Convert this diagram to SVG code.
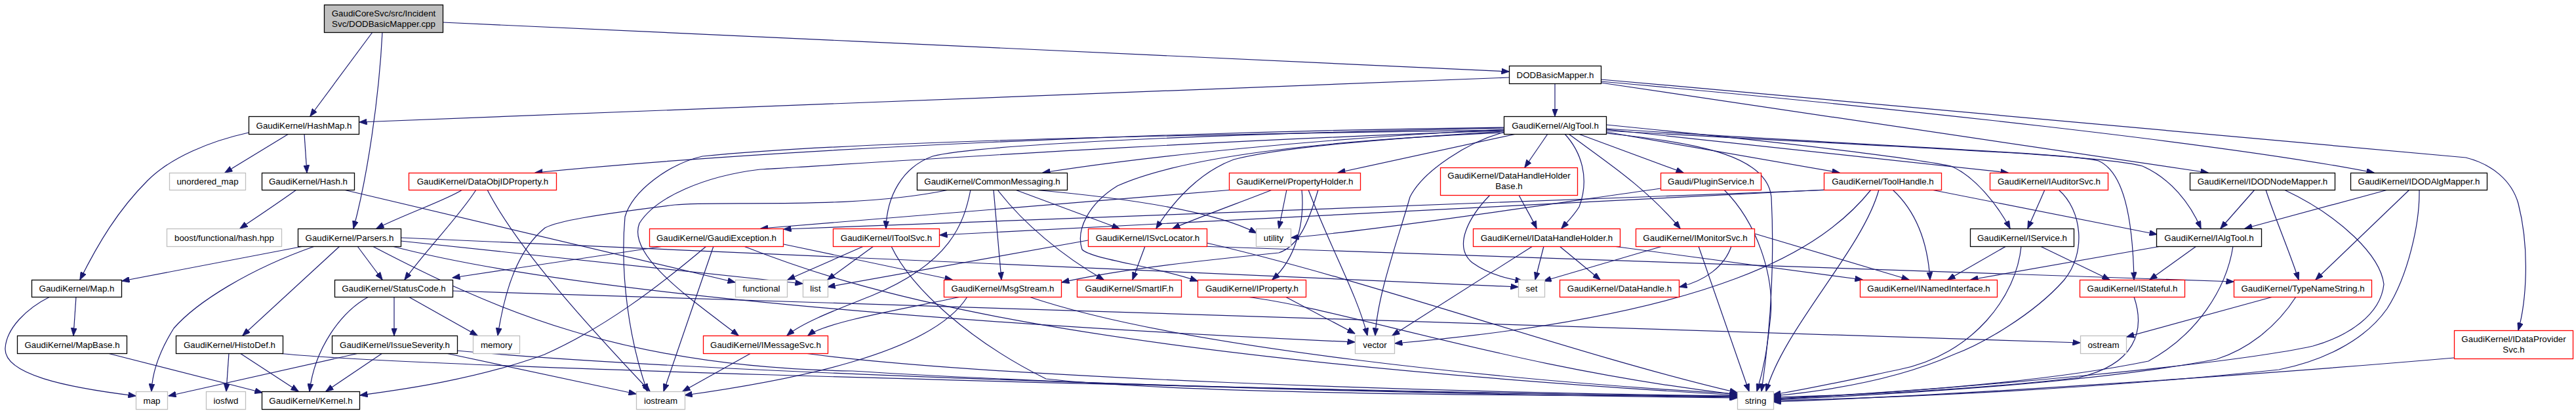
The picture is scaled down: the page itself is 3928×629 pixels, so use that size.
<svg xmlns="http://www.w3.org/2000/svg" width="3928" height="629" viewBox="0 0 3928 629">
<style>
text{font-family:"Liberation Sans",Arial,Helvetica,sans-serif;font-size:13.33px;text-anchor:middle;fill:#000}
rect{fill:#fff;stroke-width:1.3}
.nb{stroke:#000}
.nr{stroke:#ff0000}
.ng{stroke:#bfbfbf}
.root{fill:#bfbfbf;stroke:#000}
#edges path{fill:none;stroke:#191970;stroke-width:1.2;marker-end:url(#ah)}
</style>
<defs>
<marker id="ah" viewBox="0 0 12 9" refX="11.5" refY="4.5" markerWidth="12" markerHeight="9" markerUnits="userSpaceOnUse" orient="auto"><path d="M0,0 L12,4.5 L0,9 Z" fill="#191970" stroke="#191970" stroke-width="0.8"/></marker>
</defs>
<rect x="0" y="0" width="3928" height="629" style="fill:#fff;stroke:none"/>
<g id="edges">
<path d="M675,34 C1200,58 1900,90 2301,109"/>
<path d="M568,49 L473,177"/>
<path d="M583,49 C578,150 560,270 539,348"/>
<path d="M2371,127 L2371,177"/>
<path d="M2301,118 L548,186"/>
<path d="M2441,126 L3367,263"/>
<path d="M2441,124 C2900,165 3400,220 3620,263"/>
<path d="M2441,121 C3000,170 3600,222 3760,240 C3800,250 3830,275 3840,310 C3858,380 3852,460 3840,503"/>
<path d="M440,204 L343,263"/>
<path d="M464,204 L468,263"/>
<path d="M379,202 C320,215 260,240 225,275 C180,320 150,370 122,426"/>
<path d="M452,289 C430,305 400,325 366,348"/>
<path d="M524,289 L1121,430"/>
<path d="M463,375 L186,428"/>
<path d="M480,375 C380,410 300,460 265,500 C240,540 232,570 231,596"/>
<path d="M518,375 L370,511"/>
<path d="M545,375 L583,426"/>
<path d="M611,362 L2315,437"/>
<path d="M611,367 L1224,432"/>
<path d="M598,375 C900,455 1600,500 2066,521"/>
<path d="M568,375 C750,470 950,560 1300,565 C1700,590 2300,602 2649,606"/>
<path d="M2293,194 C1800,200 1200,225 816,263"/>
<path d="M2293,197 C2000,212 1750,238 1590,263"/>
<path d="M2312,204 L2040,263"/>
<path d="M2360,204 L2325,255"/>
<path d="M2407,204 L2567,263"/>
<path d="M2449,201 L2805,263"/>
<path d="M2449,197 L3062,263"/>
<path d="M2293,195 C1800,205 1480,222 1422,238 C1375,255 1352,300 1351,348"/>
<path d="M2293,200 C2100,212 1950,225 1881,243 C1830,262 1790,305 1763,348"/>
<path d="M2386,204 C2410,230 2425,270 2408,315 C2400,328 2390,338 2381,348"/>
<path d="M2392,204 C2440,240 2510,285 2562,348"/>
<path d="M2449,190 C2700,215 2900,238 2975,253 C3010,268 3045,310 3065,348"/>
<path d="M3118,289 L3092,348"/>
<path d="M2449,199 C2900,225 3200,235 3267,253 C3310,272 3340,310 3356,348"/>
<path d="M2945,289 L3289,357"/>
<path d="M3438,289 L3386,348"/>
<path d="M3641,289 L3423,348"/>
<path d="M3455,289 C3468,330 3492,385 3505,426"/>
<path d="M3674,289 L3531,426"/>
<path d="M3483,289 C3570,330 3630,390 3635,433 C3630,480 3580,512 3527,527 C3400,555 3000,592 2704,608"/>
<path d="M3689,289 C3690,340 3672,420 3640,470 C3605,520 3540,550 3475,563 C3200,592 2900,606 2704,610"/>
<path d="M3742,545 C3500,566 3000,602 2704,612"/>
<path d="M3501,452 C3470,500 3425,533 3380,547 C3200,582 2900,600 2704,609"/>
<path d="M3466,452 L3243,513"/>
<path d="M3405,375 C3395,440 3350,510 3276,550 C3100,586 2850,600 2704,607"/>
<path d="M3349,375 L3278,426"/>
<path d="M3295,375 L3005,426"/>
<path d="M3254,452 C3272,505 3255,555 3170,575 C3000,595 2800,603 2704,605"/>
<path d="M3059,375 L2970,426"/>
<path d="M3111,375 L3217,426"/>
<path d="M3082,375 C3075,450 3010,540 2895,563 C2800,583 2750,594 2704,601"/>
<path d="M3139,289 C3175,320 3182,385 3147,427 C3100,480 3020,525 2979,540 C2900,575 2800,594 2704,603"/>
<path d="M2886,289 C2925,325 2940,375 2943,426"/>
<path d="M2865,289 C2840,380 2720,500 2693,596"/>
<path d="M2783,289 L1433,358"/>
<path d="M2795,289 L1195,349"/>
<path d="M2853,289 C2780,380 2620,480 2127,523"/>
<path d="M2449,203 C2600,218 2695,240 2701,300 C2706,400 2700,500 2686,596"/>
<path d="M2590,375 L2667,596"/>
<path d="M2535,375 L2354,428"/>
<path d="M2676,356 L2911,426"/>
<path d="M2460,375 L2840,426"/>
<path d="M1830,375 L3406,429"/>
<path d="M2449,196 C2900,225 3150,233 3200,245 C3238,262 3252,330 3254,426"/>
<path d="M1940,289 C1900,305 1830,330 1788,348"/>
<path d="M1548,289 L1707,348"/>
<path d="M1515,289 L1527,426"/>
<path d="M1521,289 C1560,340 1620,390 1683,426"/>
<path d="M2293,199 C1800,215 1300,250 1159,258 C1075,268 1000,300 975,340 C955,390 1060,460 1126,511"/>
<path d="M2293,198 C1800,205 1300,215 1071,238 C1020,250 965,290 953,330 C945,420 960,520 987,596"/>
<path d="M1447,289 C1300,320 1100,305 1029,312 C900,328 850,337 831,347 C790,380 770,440 759,511"/>
<path d="M1576,289 C1700,300 1850,320 1916,355"/>
<path d="M1962,289 L1950,348"/>
<path d="M2532,287 C2300,320 2100,350 1969,362"/>
<path d="M2629,289 C2680,340 2705,420 2700,480 C2695,530 2690,560 2679,596"/>
<path d="M2316,297 C2325,315 2335,330 2343,348"/>
<path d="M2272,297 C2240,330 2215,375 2245,400 C2270,418 2300,425 2322,428"/>
<path d="M2354,375 L2341,426"/>
<path d="M2378,375 L2440,426"/>
<path d="M2337,375 L2123,511"/>
<path d="M2640,375 C2630,405 2600,428 2561,437"/>
<path d="M1465,452 C1380,470 1260,490 1232,511"/>
<path d="M1480,289 C1470,340 1450,400 1330,450 C1280,470 1225,490 1200,511"/>
<path d="M1475,452 C1420,540 1200,580 1044,602"/>
<path d="M1569,452 C1800,530 2300,580 2649,600"/>
<path d="M2010,289 C1995,340 1980,375 1950,385 C1800,400 1700,412 1619,430"/>
<path d="M2293,202 C2000,215 1800,240 1704,283 C1660,310 1640,350 1650,380 C1665,395 1760,405 1826,428"/>
<path d="M1985,289 C1990,340 1975,395 1940,426"/>
<path d="M1995,289 C2030,380 2070,450 2085,511"/>
<path d="M2295,201 C2240,215 2170,260 2150,300 C2130,370 2100,450 2097,511"/>
<path d="M1960,452 L2066,508"/>
<path d="M1900,452 C2050,470 2300,560 2649,601"/>
<path d="M1840,370 C2100,430 2400,540 2649,598"/>
<path d="M1317,375 L1201,426"/>
<path d="M1332,375 L1262,426"/>
<path d="M1359,375 C1390,440 1480,520 1595,577 C1800,600 2300,603 2649,603"/>
<path d="M1659,366 L1262,437"/>
<path d="M1746,375 L1727,426"/>
<path d="M1880,289 L1160,348"/>
<path d="M1077,375 C1000,440 920,500 830,540 C720,580 600,595 549,602"/>
<path d="M1088,375 L1012,596"/>
<path d="M1134,375 C1300,440 1600,540 2649,602"/>
<path d="M1012,375 L690,423"/>
<path d="M1195,372 L1452,426"/>
<path d="M547,538 L257,603"/>
<path d="M583,538 L497,596"/>
<path d="M680,538 L970,600"/>
<path d="M697,534 C1000,562 1800,595 2649,604"/>
<path d="M562,452 C520,475 480,530 472,596"/>
<path d="M601,452 L601,511"/>
<path d="M623,452 L728,511"/>
<path d="M690,443 L3172,522"/>
<path d="M349,538 L345,596"/>
<path d="M366,538 L455,596"/>
<path d="M423,538 C600,556 1500,585 2649,605"/>
<path d="M116,452 L112,511"/>
<path d="M76,452 C40,470 10,500 8,530 C5,570 100,590 207,603"/>
<path d="M164,538 L400,598"/>
<path d="M1145,538 L1041,596"/>
<path d="M1227,538 C1500,575 2200,598 2649,603"/>
<path d="M705,289 C680,305 620,325 574,348"/>
<path d="M726,289 C700,330 650,380 617,426"/>
<path d="M743,289 C790,380 900,500 991,596"/>
</g>
<g id="n_root"><rect class="root" x="494.5" y="7.5" width="181" height="42"/><text x="585" y="25.2">GaudiCoreSvc/src/Incident</text><text x="585" y="41.2">Svc/DODBasicMapper.cpp</text></g>
<g id="n_dodh"><rect class="nb" x="2301.5" y="100.5" width="140" height="27"/><text x="2371.5" y="118.7">DODBasicMapper.h</text></g>
<g id="n_hashmap"><rect class="nb" x="379.5" y="177.5" width="168" height="27"/><text x="463.5" y="195.7">GaudiKernel/HashMap.h</text></g>
<g id="n_algtool"><rect class="nb" x="2293.5" y="177.5" width="156" height="27"/><text x="2371.5" y="195.7">GaudiKernel/AlgTool.h</text></g>
<g id="n_umap"><rect class="ng" x="258.5" y="263.5" width="116" height="26"/><text x="316.5" y="281.2">unordered_map</text></g>
<g id="n_hash"><rect class="nb" x="399.5" y="263.5" width="141" height="26"/><text x="470" y="281.2">GaudiKernel/Hash.h</text></g>
<g id="n_dataobjid"><rect class="nr" x="623.5" y="263.5" width="225" height="26"/><text x="736" y="281.2">GaudiKernel/DataObjIDProperty.h</text></g>
<g id="n_commsg"><rect class="nb" x="1398.5" y="263.5" width="229" height="26"/><text x="1513" y="281.2">GaudiKernel/CommonMessaging.h</text></g>
<g id="n_propholder"><rect class="nr" x="1874.5" y="263.5" width="200" height="26"/><text x="1974.5" y="281.2">GaudiKernel/PropertyHolder.h</text></g>
<g id="n_dhhb"><rect class="nr" x="2196.5" y="255.5" width="209" height="42"/><text x="2301" y="272.2">GaudiKernel/DataHandleHolder</text><text x="2301" y="288.2">Base.h</text></g>
<g id="n_plugin"><rect class="nr" x="2532.5" y="263.5" width="153" height="26"/><text x="2609" y="281.2">Gaudi/PluginService.h</text></g>
<g id="n_toolhandle"><rect class="nr" x="2781.5" y="263.5" width="179" height="26"/><text x="2871" y="281.2">GaudiKernel/ToolHandle.h</text></g>
<g id="n_iauditor"><rect class="nr" x="3034.5" y="263.5" width="180" height="26"/><text x="3124.5" y="281.2">GaudiKernel/IAuditorSvc.h</text></g>
<g id="n_idodnode"><rect class="nb" x="3339.5" y="263.5" width="221" height="26"/><text x="3450" y="281.2">GaudiKernel/IDODNodeMapper.h</text></g>
<g id="n_idodalg"><rect class="nb" x="3584.5" y="263.5" width="208" height="26"/><text x="3688.5" y="281.2">GaudiKernel/IDODAlgMapper.h</text></g>
<g id="n_boost"><rect class="ng" x="254.5" y="348.5" width="175" height="27"/><text x="342" y="366.7">boost/functional/hash.hpp</text></g>
<g id="n_parsers"><rect class="nb" x="454.5" y="348.5" width="157" height="27"/><text x="533" y="366.7">GaudiKernel/Parsers.h</text></g>
<g id="n_gexc"><rect class="nr" x="990.5" y="348.5" width="204" height="27"/><text x="1092.5" y="366.7">GaudiKernel/GaudiException.h</text></g>
<g id="n_itoolsvc"><rect class="nr" x="1270.5" y="348.5" width="162" height="27"/><text x="1351.5" y="366.7">GaudiKernel/IToolSvc.h</text></g>
<g id="n_isvcloc"><rect class="nr" x="1659.5" y="348.5" width="181" height="27"/><text x="1750" y="366.7">GaudiKernel/ISvcLocator.h</text></g>
<g id="n_utility"><rect class="ng" x="1915.5" y="348.5" width="53" height="27"/><text x="1942" y="366.7">utility</text></g>
<g id="n_idhh"><rect class="nr" x="2246.5" y="348.5" width="224" height="27"/><text x="2358.5" y="366.7">GaudiKernel/IDataHandleHolder.h</text></g>
<g id="n_imonitor"><rect class="nr" x="2494.5" y="348.5" width="181" height="27"/><text x="2585" y="366.7">GaudiKernel/IMonitorSvc.h</text></g>
<g id="n_iservice"><rect class="nb" x="3004.5" y="348.5" width="158" height="27"/><text x="3083.5" y="366.7">GaudiKernel/IService.h</text></g>
<g id="n_ialgtool"><rect class="nb" x="3288.5" y="348.5" width="160" height="27"/><text x="3368.5" y="366.7">GaudiKernel/IAlgTool.h</text></g>
<g id="n_map_h"><rect class="nb" x="48.5" y="426.5" width="137" height="26"/><text x="117" y="444.2">GaudiKernel/Map.h</text></g>
<g id="n_statuscode"><rect class="nb" x="510.5" y="426.5" width="180" height="26"/><text x="600.5" y="444.2">GaudiKernel/StatusCode.h</text></g>
<g id="n_functional"><rect class="ng" x="1121.5" y="426.5" width="79" height="26"/><text x="1161" y="444.2">functional</text></g>
<g id="n_list"><rect class="ng" x="1224.5" y="426.5" width="38" height="26"/><text x="1243.5" y="444.2">list</text></g>
<g id="n_msgstream"><rect class="nr" x="1439.5" y="426.5" width="179" height="26"/><text x="1529" y="444.2">GaudiKernel/MsgStream.h</text></g>
<g id="n_smartif"><rect class="nr" x="1642.5" y="426.5" width="159" height="26"/><text x="1722" y="444.2">GaudiKernel/SmartIF.h</text></g>
<g id="n_iproperty"><rect class="nr" x="1826.5" y="426.5" width="165" height="26"/><text x="1909" y="444.2">GaudiKernel/IProperty.h</text></g>
<g id="n_set"><rect class="ng" x="2315.5" y="426.5" width="40" height="26"/><text x="2335.5" y="444.2">set</text></g>
<g id="n_datahandle"><rect class="nr" x="2378.5" y="426.5" width="182" height="26"/><text x="2469.5" y="444.2">GaudiKernel/DataHandle.h</text></g>
<g id="n_inamed"><rect class="nr" x="2836.5" y="426.5" width="209" height="26"/><text x="2941" y="444.2">GaudiKernel/INamedInterface.h</text></g>
<g id="n_istateful"><rect class="nr" x="3171.5" y="426.5" width="160" height="26"/><text x="3251.5" y="444.2">GaudiKernel/IStateful.h</text></g>
<g id="n_typename"><rect class="nr" x="3406.5" y="426.5" width="210" height="26"/><text x="3511.5" y="444.2">GaudiKernel/TypeNameString.h</text></g>
<g id="n_mapbase"><rect class="nb" x="26.5" y="511.5" width="167" height="27"/><text x="110" y="529.7">GaudiKernel/MapBase.h</text></g>
<g id="n_histodef"><rect class="nb" x="268.5" y="511.5" width="163" height="27"/><text x="350" y="529.7">GaudiKernel/HistoDef.h</text></g>
<g id="n_issue"><rect class="nb" x="506.5" y="511.5" width="191" height="27"/><text x="602" y="529.7">GaudiKernel/IssueSeverity.h</text></g>
<g id="n_memory"><rect class="ng" x="721.5" y="511.5" width="71" height="27"/><text x="757" y="529.7">memory</text></g>
<g id="n_imsgsvc"><rect class="nr" x="1072.5" y="511.5" width="190" height="27"/><text x="1167.5" y="529.7">GaudiKernel/IMessageSvc.h</text></g>
<g id="n_vector"><rect class="ng" x="2066.5" y="511.5" width="60" height="27"/><text x="2096.5" y="529.7">vector</text></g>
<g id="n_ostream"><rect class="ng" x="3172.5" y="511.5" width="70" height="27"/><text x="3207.5" y="529.7">ostream</text></g>
<g id="n_idps"><rect class="nr" x="3742.5" y="503.5" width="181" height="43"/><text x="3833" y="520.5">GaudiKernel/IDataProvider</text><text x="3833" y="536.5">Svc.h</text></g>
<g id="n_map"><rect class="ng" x="207.5" y="596.5" width="48" height="27"/><text x="231.5" y="614.7">map</text></g>
<g id="n_iosfwd"><rect class="ng" x="314.5" y="596.5" width="60" height="27"/><text x="344.5" y="614.7">iosfwd</text></g>
<g id="n_kernel"><rect class="nb" x="399.5" y="596.5" width="149" height="27"/><text x="474" y="614.7">GaudiKernel/Kernel.h</text></g>
<g id="n_iostream"><rect class="ng" x="970.5" y="596.5" width="74" height="27"/><text x="1007.5" y="614.7">iostream</text></g>
<g id="n_string"><rect class="ng" x="2649.5" y="596.5" width="55" height="27"/><text x="2677" y="614.7">string</text></g>
</svg>
